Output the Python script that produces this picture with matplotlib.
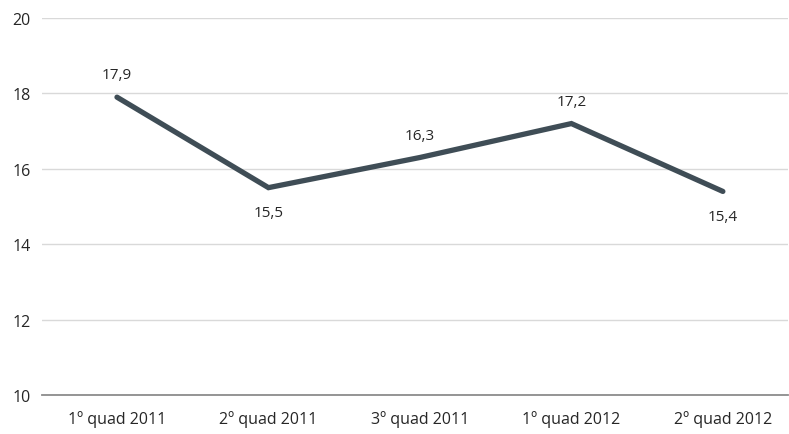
import matplotlib
matplotlib.use("Agg")
import matplotlib.pyplot as plt

plt.rcParams['font.family'] = ['Open Sans', 'DejaVu Sans']

categories = ['1º quad 2011', '2º quad 2011', '3º quad 2011', '1º quad 2012', '2º quad 2012']
values = [17.9, 15.5, 16.3, 17.2, 15.4]
label_pos = ['above', 'below', 'above', 'above', 'below']
yticks = [10, 12, 14, 16, 18, 20]

fig = plt.figure(figsize=(7.89, 4.35), dpi=100)
ax = fig.add_axes([42 / 789, 1 - 396 / 435, (788 - 42) / 789, (396 - 19) / 435])

x = list(range(len(categories)))
ax.plot(x, values, color='#3f4d56', lw=3.8, solid_capstyle='round', solid_joinstyle='miter', zorder=3)

for xi, v, pos in zip(x, values, label_pos):
    off = 16 if pos == 'above' else -18
    ax.annotate(f"{v:.1f}".replace('.', ','), (xi, v), xytext=(0, off), textcoords='offset points',
                ha='center', va='center', fontsize=11, color='#262626')

ax.set_xlim(-0.495, 4.43)
ax.set_ylim(10, 20)
ax.set_yticks(yticks)
ax.set_xticks(x)
ax.set_xticklabels(categories)
ax.grid(axis='y', color='#d9d9d9', lw=1)
ax.set_axisbelow(True)
for s in ['top', 'right', 'left']:
    ax.spines[s].set_visible(False)
ax.spines['bottom'].set_color('#8c8c8c')
ax.spines['bottom'].set_linewidth(1.3)
ax.tick_params(axis='both', length=0, labelsize=11.5, colors='#262626')
ax.tick_params(axis='x', pad=11)
ax.tick_params(axis='y', pad=8)

fig.savefig('out.png', dpi=100)
